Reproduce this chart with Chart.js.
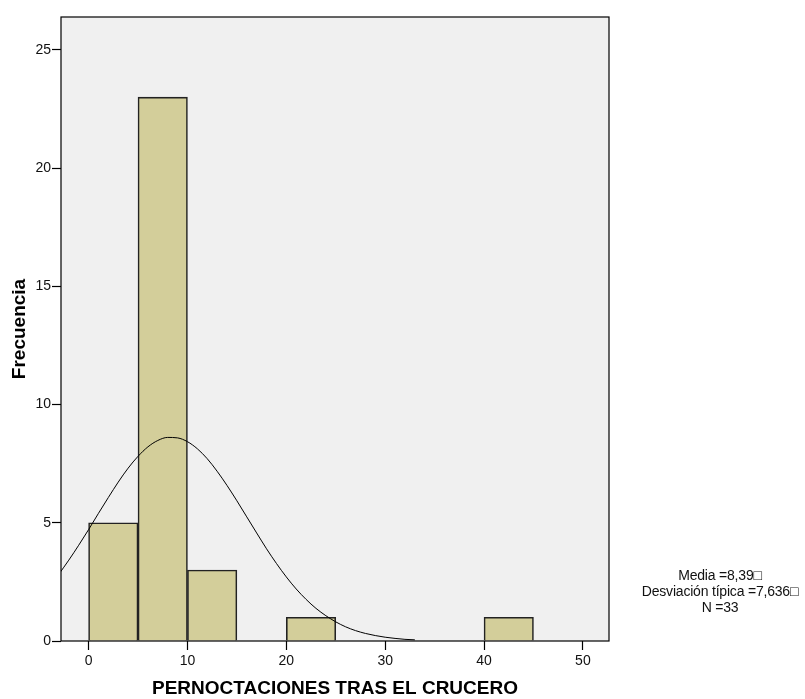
<!DOCTYPE html>
<html>
<head>
<meta charset="utf-8">
<script src="https://cdn.jsdelivr.net/npm/chart.js@4/dist/chart.umd.min.js"></script>
<style>
  body { margin: 0; background: #fff; }
  #wrap { position: relative; width: 805px; height: 699px; }
  #stats {
    position: absolute; left: 630px; top: 567px; width: 180px;
    font-family: "Liberation Sans", Arial, sans-serif; font-size: 14px;
    line-height: 16px; text-align: center; color: #111; letter-spacing: -0.2px;
  }
</style>
</head>
<body>
<div id="wrap">
  <canvas id="histChart" width="805" height="699"></canvas>
  <div id="stats"></div>
</div>
<script>
// histogram bins (centre of each 5-wide bin) and counts
const binCenters = [2.5, 7.5, 12.5, 22.5, 42.5];
const binCounts = [5, 23, 3, 1, 1];

// normal curve
const curveX = [-3, -2, -1, 0, 1, 2, 3, 4, 5, 6, 7, 8, 9, 10, 11, 12, 13, 14, 15, 16, 17, 18,
  19, 20, 21, 22, 23, 24, 25, 26, 27, 28, 29, 30, 31, 32, 33];
const curveY = [2.83, 3.42, 4.05, 4.71, 5.40, 6.07, 6.72, 7.31, 7.81, 8.21, 8.48, 8.61, 8.59, 8.43,
  8.13, 7.71, 7.18, 6.58, 5.93, 5.25, 4.57, 3.90, 3.28, 2.71, 2.20, 1.76, 1.38, 1.07, 0.81, 0.60,
  0.44, 0.32, 0.23, 0.16, 0.11, 0.07, 0.05];

const statLines = ['Media =8,39\u25A1', 'Desviación típica =7,636\u25A1', 'N =33'];

document.getElementById('stats').innerHTML = statLines.join('<br>');

const plotBox = {
    id: 'plotBox',
    beforeDraw(chart) {
        const a = chart.chartArea;
        const ctx = chart.ctx;
        ctx.save();
        ctx.fillStyle = '#F0F0F0';
        ctx.fillRect(a.left, a.top, a.right - a.left, a.bottom - a.top);
        ctx.restore();
    },
    afterDatasetsDraw(chart) {
        const a = chart.chartArea;
        const ctx = chart.ctx;
        ctx.save();
        ctx.strokeStyle = '#000';
        ctx.lineWidth = 1.2;
        ctx.strokeRect(a.left, a.top, a.right - a.left, a.bottom - a.top);
        ctx.restore();
    }
};

const tickFont = { family: 'Liberation Sans, Arial, sans-serif', size: 14 };
const titleFont = { family: 'Liberation Sans, Arial, sans-serif', size: 19, weight: 'bold' };

const data = {
    datasets: [{
        type: 'line',
        data: curveX.map((x, i) => ({ x: x, y: curveY[i] })),
        borderColor: '#000',
        borderWidth: 1,
        pointRadius: 0,
        cubicInterpolationMode: 'monotone',
        order: 0
    },
    {
        type: 'bar',
        data: binCenters.map((x, i) => ({ x: x, y: binCounts[i] })),
        backgroundColor: '#D3CE9A',
        borderColor: '#222',
        borderWidth: 1.6,
        barPercentage: 1,
        categoryPercentage: 1,
        order: 1
    }]
};

const config = {
    type: 'bar',
    data: data,
    options: {
        responsive: false,
        devicePixelRatio: 1,
        animation: false,
        layout: { padding: { left: 0, top: 17, right: 196, bottom: 0 } },
        plugins: { legend: { display: false }, tooltip: { enabled: false } },
        scales: {
            x: {
                type: 'linear',
                min: -2.79,
                max: 52.64,
                offset: false,
                afterFit: function(scale) { scale.height = 58; },
                ticks: { stepSize: 10, includeBounds: false, font: tickFont, color: '#111', padding: 3, maxRotation: 0 },
                grid: { offset: false, drawOnChartArea: false, tickLength: 9, tickColor: '#000', tickWidth: 1.2 },
                border: { display: false },
                title: { display: true, text: 'PERNOCTACIONES TRAS EL CRUCERO', font: titleFont, color: '#000', padding: { top: 0, bottom: -1 } }
            },
            y: {
                min: 0,
                max: 26.39,
                afterFit: function(scale) { scale.width = 61; },
                ticks: { stepSize: 5, includeBounds: false, font: tickFont, color: '#111', padding: 1 },
                grid: { drawOnChartArea: false, tickLength: 9, tickColor: '#000', tickWidth: 1.2 },
                border: { display: false },
                title: { display: true, text: 'Frecuencia', font: titleFont, color: '#000', padding: { top: 8, bottom: 0 } }
            }
        }
    },
    plugins: [plotBox]
};

const histChart = new Chart(document.getElementById('histChart'), config);
</script>
</body>
</html>
